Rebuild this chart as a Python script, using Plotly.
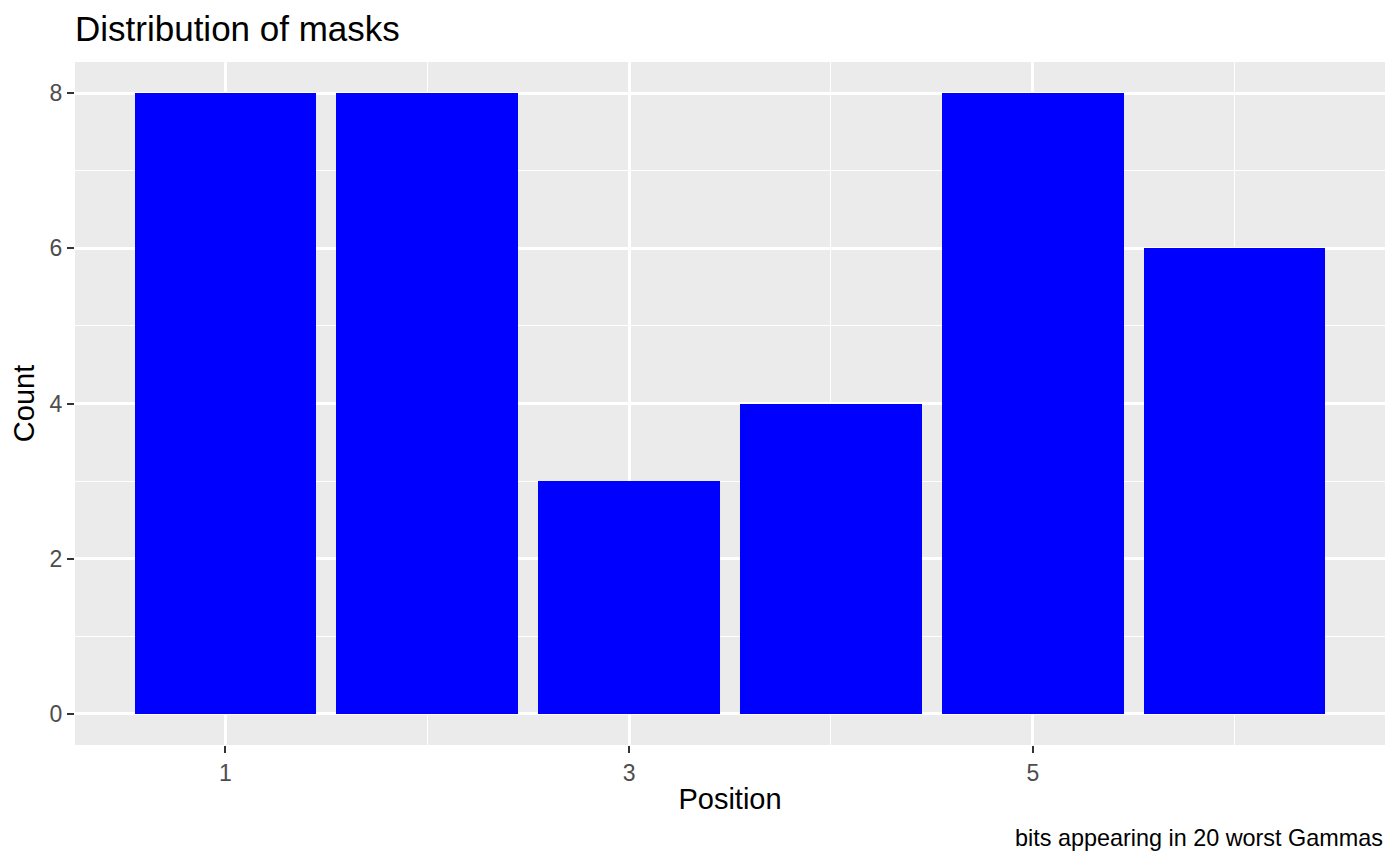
import plotly.graph_objects as go

positions = [1, 2, 3, 4, 5, 6]
counts = [8, 8, 3, 4, 8, 6]
x_ticks = [1, 3, 5]
y_ticks = [0, 2, 4, 6, 8]

FONT = "Liberation Sans, Arial, sans-serif"

fig = go.Figure(go.Bar(
    x=positions,
    y=counts,
    width=0.9,
    marker=dict(color="#0000FF", line=dict(width=0)),
))

axis_common = dict(
    showgrid=True,
    gridcolor="white",
    gridwidth=2.8,
    zeroline=False,
    showline=False,
    automargin=False,
    ticks="outside",
    ticklen=7,
    tickwidth=2,
    tickcolor="#333333",
    tickfont=dict(family=FONT, size=23, color="#4D4D4D"),
)

fig.update_xaxes(
    range=[0.255, 6.745],
    tickvals=x_ticks,
    ticktext=[str(v) for v in x_ticks],
    minor=dict(tick0=0, dtick=1, showgrid=True, gridcolor="white", gridwidth=1.4, ticks=""),
    title=dict(text="Position", font=dict(family=FONT, size=29, color="black"), standoff=4),
    **axis_common,
)
fig.update_yaxes(
    range=[-0.4, 8.4],
    tickvals=y_ticks,
    ticktext=[str(v) for v in y_ticks],
    minor=dict(tick0=0, dtick=1, showgrid=True, gridcolor="white", gridwidth=1.4, ticks=""),
    title=dict(text="Count", font=dict(family=FONT, size=29, color="black"), standoff=14),
    **axis_common,
)

# page body adds an 8px offset, so margins are shifted accordingly
fig.update_layout(
    width=1400,
    height=866,
    margin=dict(l=67, r=23, t=54, b=129),
    paper_bgcolor="white",
    plot_bgcolor="#EBEBEB",
    showlegend=False,
    bargap=0,
    title=dict(
        text="Distribution of masks",
        font=dict(family=FONT, size=35, color="black"),
        xref="paper", x=0, xanchor="left",
        yref="container", y=1 - 21 / 866, yanchor="middle",
    ),
    annotations=[dict(
        text="bits appearing in 20 worst Gammas",
        xref="paper", yref="paper", x=1, y=0,
        xanchor="right", yanchor="middle", yshift=-93,
        showarrow=False,
        font=dict(family=FONT, size=23.4, color="black"),
    )],
)

fig.write_html("out.html")
